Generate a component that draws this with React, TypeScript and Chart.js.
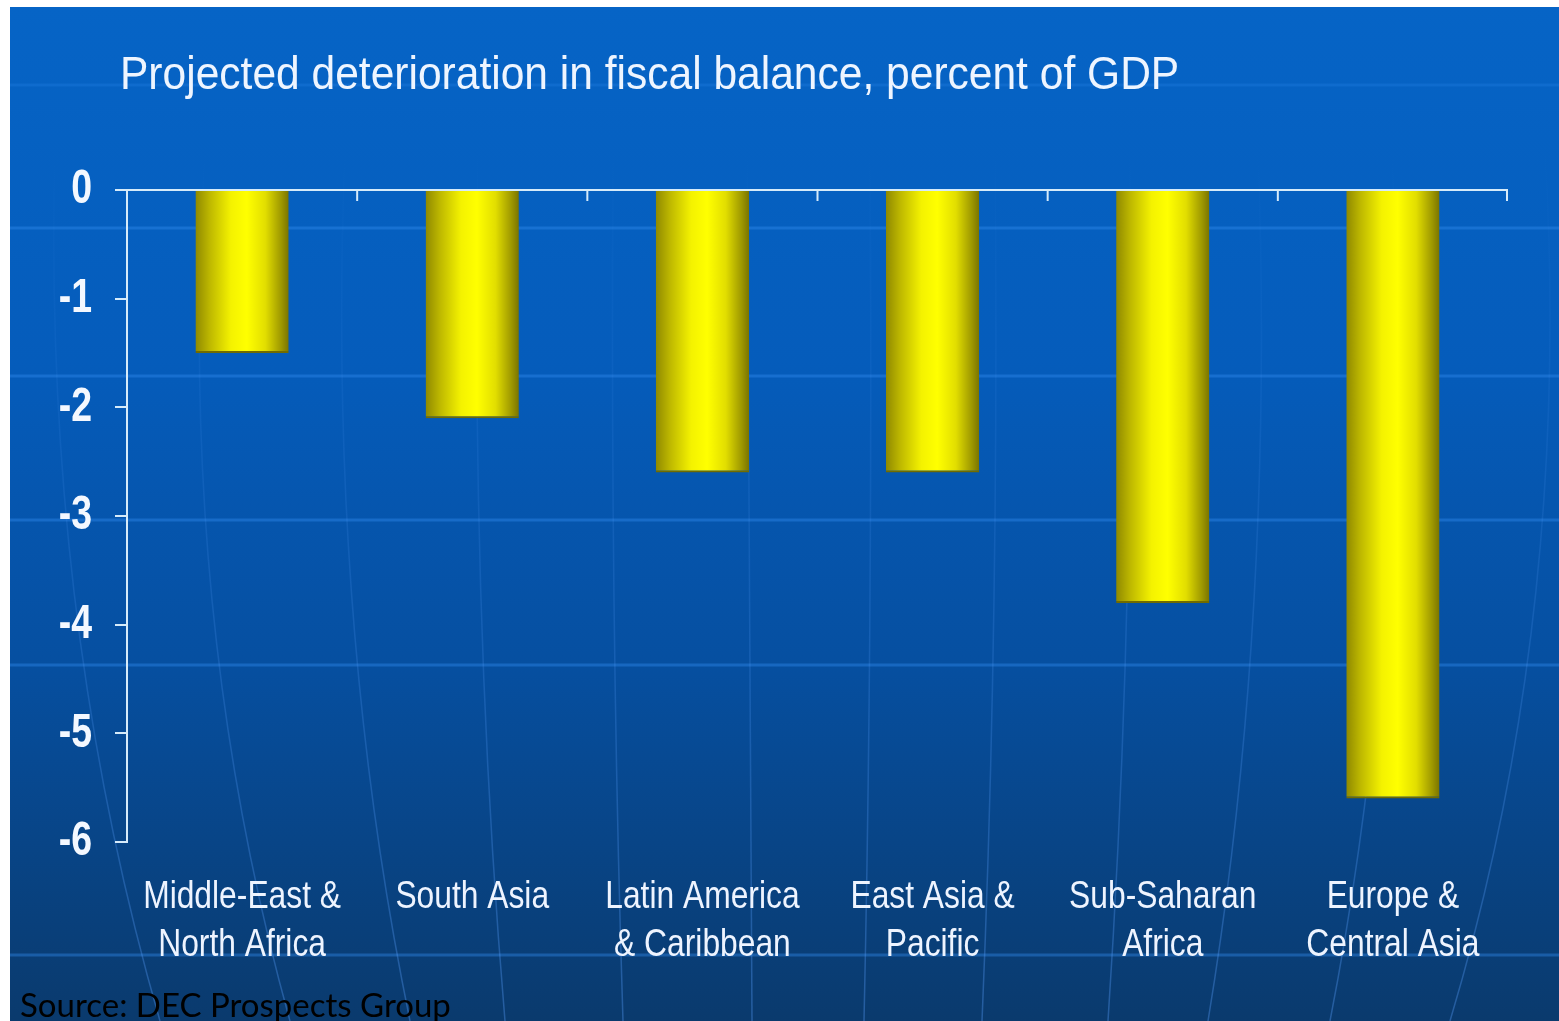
import React, { useEffect, useRef } from 'react';
import { Chart, registerables } from 'chart.js';

Chart.register(...registerables);

// ---- Data ----
const categories: string[][] = [
  ['Middle-East &', 'North Africa'],
  ['South Asia'],
  ['Latin America', '& Caribbean'],
  ['East Asia &', 'Pacific'],
  ['Sub-Saharan', 'Africa'],
  ['Europe &', 'Central Asia'],
];
const values: number[] = [-1.5, -2.1, -2.6, -2.6, -3.8, -5.6];
const yTicks: number[] = [0, -1, -2, -3, -4, -5, -6];
const titleText = 'Projected deterioration in fiscal balance, percent of GDP';
const sourceText = 'Source: DEC Prospects Group';

// ---- Style ----
const FONT = '"Liberation Sans", Arial, sans-serif';
const AXIS = '#d6ebfa';
const OX = 10; // page offset of canvas
const OY = 7;
const W = 1549;
const H = 1014;
const SQUEEZE: Record<string, number> = { x: 0.815, y: 0.78 };
const TITLE_SQUEEZE = 0.905;

const bandYs = [85, 228, 376, 520, 665, 955];
const meridians: number[][] = [
  [55, 75, 160],
  [205, 212, 290],
  [345, 352, 410],
  [478, 481, 505],
  [613, 614, 623],
  [747, 749, 752],
  [870, 870, 864],
  [995, 994, 982],
  [1130, 1127, 1108],
  [1258, 1254, 1208],
  [1392, 1385, 1330],
  [1545, 1535, 1450],
];

function condensedDrawLabels(this: any) {
  const scale = this;
  if (!scale.options.ticks.display) return;
  const ctx = scale.ctx as CanvasRenderingContext2D;
  const k = SQUEEZE[scale.id] ?? 1;
  const items = scale.getLabelItems(scale.chart.chartArea);
  for (const item of items) {
    const o = item.options;
    const font = item.font;
    ctx.save();
    ctx.translate(o.translation[0], o.translation[1]);
    if (o.rotation) ctx.rotate(o.rotation);
    ctx.scale(k, 1);
    ctx.font = font.string;
    ctx.fillStyle = o.color;
    ctx.textAlign = o.textAlign;
    ctx.textBaseline = o.textBaseline;
    const lines = Array.isArray(item.label) ? item.label : [item.label];
    let y = item.textOffset;
    for (const l of lines) {
      ctx.fillText(String(l), 0, y);
      y += font.lineHeight;
    }
    ctx.restore();
  }
}

const decorPlugin = {
  id: 'decor',
  afterUpdate(chart: any) {
    ['x', 'y'].forEach((id) => {
      const s = chart.scales[id];
      if (s && s.drawLabels !== condensedDrawLabels) s.drawLabels = condensedDrawLabels;
    });
  },
  beforeDraw(chart: any) {
    const ctx = chart.ctx as CanvasRenderingContext2D;
    const w = chart.width;
    const h = chart.height;
    ctx.save();
    const g = ctx.createLinearGradient(0, 0, 0, h);
    g.addColorStop(0, '#0664c6');
    g.addColorStop(0.35, '#055cbb');
    g.addColorStop(0.65, '#064fa0');
    g.addColorStop(1, '#0a3a6d');
    ctx.fillStyle = g;
    ctx.fillRect(0, 0, w, h);
    // horizontal light bands
    bandYs.forEach((y, i) => {
      ctx.fillStyle = i === 0 ? 'rgba(50,140,240,0.22)' : 'rgba(50,140,240,0.40)';
      ctx.fillRect(0, y - OY - 1.5, w, 3);
    });
    // faint meridian curves, fading out towards the top
    const sg = ctx.createLinearGradient(0, 150 - OY, 0, h);
    sg.addColorStop(0, 'rgba(90,160,255,0.0)');
    sg.addColorStop(0.45, 'rgba(90,160,255,0.14)');
    sg.addColorStop(1, 'rgba(90,160,255,0.35)');
    ctx.strokeStyle = sg;
    ctx.lineWidth = 1.5;
    meridians.forEach(([a, b, c]) => {
      const y0 = 150 - OY, y1 = 600 - OY, y2 = 1021 - OY;
      const cx = 2 * (b - OX) - 0.5 * ((a - OX) + (c - OX));
      const cy = 2 * y1 - 0.5 * (y0 + y2);
      ctx.beginPath();
      ctx.moveTo(a - OX, y0);
      ctx.quadraticCurveTo(cx, cy, c - OX, y2);
      ctx.stroke();
    });
    ctx.restore();
  },
  afterDatasetsDraw(chart: any) {
    const ctx = chart.ctx as CanvasRenderingContext2D;
    const xs = chart.scales.x;
    const top = chart.chartArea.top;
    ctx.save();
    ctx.strokeStyle = AXIS;
    ctx.lineWidth = 2;
    const n = categories.length;
    const pos: number[] = [];
    for (let i = 1; i < n; i++) pos.push((xs.getPixelForValue(i - 1) + xs.getPixelForValue(i)) / 2);
    pos.push(chart.chartArea.right - 1);
    pos.forEach((px) => {
      ctx.beginPath();
      ctx.moveTo(px, top);
      ctx.lineTo(px, top + 11);
      ctx.stroke();
    });
    ctx.restore();
  },
  afterDraw(chart: any) {
    const ctx = chart.ctx as CanvasRenderingContext2D;
    ctx.save();
    ctx.textBaseline = 'alphabetic';
    ctx.textAlign = 'left';
    ctx.fillStyle = '#eef5ff';
    ctx.font = '47px ' + FONT;
    ctx.translate(120 - OX, 89 - OY);
    ctx.scale(TITLE_SQUEEZE, 1);
    ctx.fillText(titleText, 0, 0);
    ctx.restore();
    ctx.save();
    ctx.fillStyle = '#000000';
    ctx.font = '33px Lato, "Open Sans", sans-serif';
    ctx.fillText(sourceText, 20 - OX, 1017 - OY);
    ctx.restore();
  },
};

export default function App() {
  const ref = useRef<HTMLCanvasElement>(null);
  useEffect(() => {
    const canvas = ref.current!;
    const chart = new Chart(canvas, {
      type: 'bar',
      data: {
        labels: categories,
        datasets: [
          {
            data: values,
            barPercentage: 0.405,
            categoryPercentage: 1,
            borderSkipped: 'start',
            borderWidth: { top: 0, left: 0, right: 0, bottom: 2 },
            borderColor: '#706b00',
            backgroundColor: (c: any) => {
              const ch = c.chart;
              const xs = ch.scales && ch.scales.x;
              if (!xs || c.dataIndex === undefined || !ch.chartArea) return '#e0dc00';
              const cx = xs.getPixelForValue(c.dataIndex);
              const bw = (xs.width / categories.length) * 0.405;
              const g = ch.ctx.createLinearGradient(cx - bw / 2, 0, cx + bw / 2, 0);
              g.addColorStop(0, '#8f8900');
              g.addColorStop(0.15, '#bdb700');
              g.addColorStop(0.38, '#f4f200');
              g.addColorStop(0.55, '#ffff00');
              g.addColorStop(0.75, '#e2de00');
              g.addColorStop(0.92, '#9e9800');
              g.addColorStop(1, '#7a7400');
              return g;
            },
          } as any,
        ],
      },
      options: {
        animation: false,
        responsive: false,
        maintainAspectRatio: false,
        devicePixelRatio: 1,
        layout: { padding: { top: 183, right: 51, left: 0, bottom: 0 } },
        plugins: {
          legend: { display: false },
          tooltip: { enabled: false },
          title: { display: false },
        },
        scales: {
          x: {
            afterFit: (s: any) => {
              s.height = 179;
            },
            grid: { display: false },
            border: { display: false },
            ticks: {
              color: '#eef4ff',
              font: { family: FONT, size: 39, lineHeight: 1.23 },
              padding: 23,
              maxRotation: 0,
              minRotation: 0,
              autoSkip: false,
            },
          },
          y: {
            min: -6,
            max: 0,
            afterFit: (s: any) => {
              s.width = 117;
            },
            afterBuildTicks: (s: any) => {
              s.ticks = yTicks.map((v) => ({ value: v }));
            },
            border: { display: true, color: AXIS, width: 2 },
            grid: {
              color: (c: any) => (c.tick && c.tick.value === 0 ? AXIS : 'rgba(0,0,0,0)'),
              tickColor: AXIS,
              tickLength: 12,
              lineWidth: 2,
              drawTicks: true,
            },
            ticks: {
              color: '#f4f8ff',
              font: { family: FONT, size: 48, weight: 'bold' },
              padding: 23,
            },
          },
        },
      },
      plugins: [decorPlugin],
    });
    return () => chart.destroy();
  }, []);
  return (
    <div style={{ position: 'fixed', left: OX, top: OY, width: W, height: H }}>
      <canvas ref={ref} width={W} height={H} style={{ display: 'block', width: W, height: H }} />
    </div>
  );
}
